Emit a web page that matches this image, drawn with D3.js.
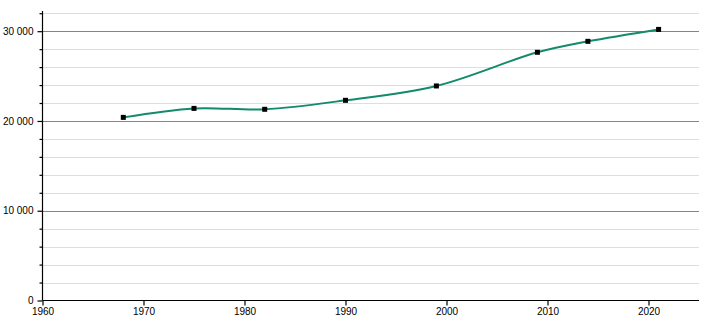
<!DOCTYPE html>
<html>
<head>
<meta charset="utf-8">
<script src="https://cdn.jsdelivr.net/npm/d3@7"></script>
<style>
body { margin: 0; background: #fff; }
svg { display: block; font-family: "Liberation Sans", Arial, sans-serif; }
</style>
</head>
<body>
<svg id="chart" width="710" height="320"></svg>
<script>
// data
var years = [1968, 1975, 1982, 1990, 1999, 2009, 2014, 2021];
var population = [20400, 21400, 21300, 22300, 23900, 27650, 28870, 30200];
var xTicks = [1960, 1970, 1980, 1990, 2000, 2010, 2020];
var yTicks = [0, 10000, 20000, 30000];
var yMinor = [2000, 4000, 6000, 8000, 12000, 14000, 16000, 18000, 22000, 24000, 26000, 28000, 32000];

var svg = d3.select("#chart");
// note: "top" is taken by window.top, so prefix everything
var plotL = 42.5, plotR = 699, plotT = 11, plotB = 300.5;

var x = d3.scaleLinear().domain([1960, 2025]).range([plotL, plotR]);
var y = d3.scaleLinear().domain([0, 32250]).range([plotB, plotT]);

var fmt = function(d){ return d3.format(",")(d).replace(/,/g, " "); };

//grid
svg.selectAll("line.minor")
   .data(yMinor)
   .enter()
   .append("line")
   .attr("x1", plotL).attr("x2", plotR)
   .attr("y1", function(d){ return Math.round(y(d)) + 0.5; })
   .attr("y2", function(d){ return Math.round(y(d)) + 0.5; })
   .attr("stroke", "#dedede")
   .attr("stroke-width", 1);

svg.selectAll("line.major")
   .data(yTicks.filter(function(d){ return d > 0; }))
   .enter()
   .append("line")
   .attr("x1", plotL).attr("x2", plotR)
   .attr("y1", function(d){ return Math.round(y(d)) + 0.5; })
   .attr("y2", function(d){ return Math.round(y(d)) + 0.5; })
   .attr("stroke", "#858585")
   .attr("stroke-width", 1);

//axes
var yAxis = d3.axisLeft(y).tickValues(yTicks).tickSize(5).tickPadding(4).tickFormat(fmt);
var gy = svg.append("g").attr("transform", "translate(" + plotL + ",0)").call(yAxis);
gy.select(".domain").attr("d", "M0," + plotT + "V" + plotB);

var yMinorAxis = d3.axisLeft(y).tickValues(yMinor).tickSize(3).tickFormat("");
var gym = svg.append("g").attr("transform", "translate(" + plotL + ",0)").call(yMinorAxis);
gym.select(".domain").remove();

var xAxis = d3.axisBottom(x).tickValues(xTicks).tickSize(5).tickPadding(2).tickFormat(d3.format("d"));
var gx = svg.append("g").attr("transform", "translate(0," + plotB + ")").call(xAxis);
gx.select(".domain").attr("d", "M" + plotL + ",0H" + plotR);

svg.selectAll(".tick text").attr("font-size", 10).attr("fill", "#000")
   .attr("font-family", "'Liberation Sans', Arial, sans-serif");
svg.selectAll(".domain, .tick line").attr("stroke", "#000").attr("stroke-width", 1.2);

//line
var pts = years.map(function(d, i){ return [d, population[i]]; });
var line = d3.line()
    .x(function(d){ return x(d[0]); })
    .y(function(d){ return y(d[1]); })
    .curve(d3.curveCatmullRom.alpha(0.5));

svg.append("path")
   .datum(pts)
   .attr("d", line)
   .attr("fill", "none")
   .attr("stroke", "#128a6b")
   .attr("stroke-width", 2);

svg.selectAll("rect.pt")
   .data(pts)
   .enter()
   .append("rect")
   .attr("x", function(d){ return x(d[0]) - 2.5; })
   .attr("y", function(d){ return y(d[1]) - 2.5; })
   .attr("width", 5)
   .attr("height", 5)
   .attr("fill", "#000");
</script>
</body>
</html>
